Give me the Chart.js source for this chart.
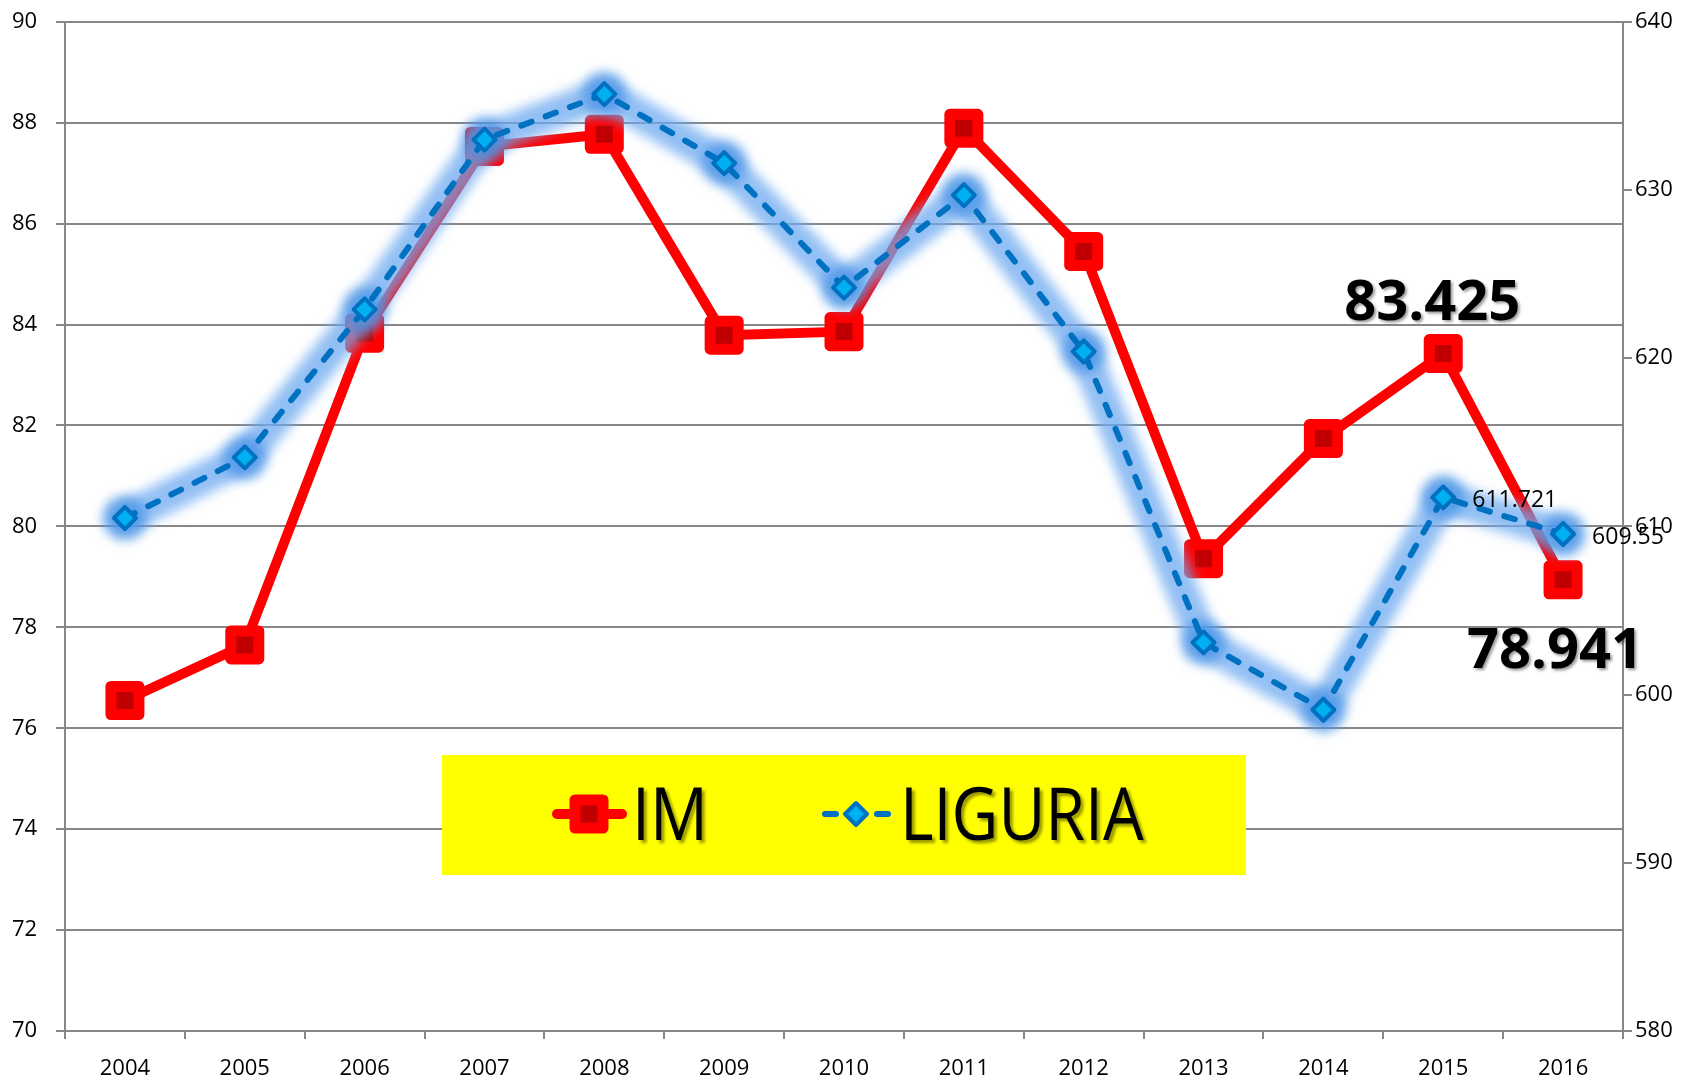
<!DOCTYPE html>
<html>
<head>
<meta charset="utf-8">
<script src="https://cdn.jsdelivr.net/npm/chart.js@4.4.1/dist/chart.umd.min.js"></script>
<style>
  html, body { margin: 0; padding: 0; background: #fff; overflow: hidden; }
  body { width: 1700px; height: 1081px; position: relative; }
  /* shifted up a little: the layout adds a few px above the plot */
  #wrap { width: 1700px; height: 1090px; position: absolute; left: 0; top: -9px; }
</style>
</head>
<body>
<div id="wrap"><canvas id="myChart"></canvas></div>
<script>
// categories
const years = ['2004', '2005', '2006', '2007', '2008', '2009', '2010', '2011', '2012', '2013', '2014', '2015', '2016'];

// IM (left axis)
const imValues = [76.55, 77.65, 83.83, 87.53, 87.77, 83.79, 83.86, 87.89, 85.45, 79.36, 81.74, 83.425, 78.941];

// LIGURIA (right axis)
const liguriaValues = [610.5, 614.1, 622.9, 633.0, 635.7, 631.6, 624.2, 629.7, 620.4, 603.1, 599.1, 611.721, 609.55];

// tick labels of both value axes
const leftTickLabels = [70, 72, 74, 76, 78, 80, 82, 84, 86, 88, 90];
const rightTickLabels = [580, 590, 600, 610, 620, 630, 640];

// points that carry a value label
const labelledYears = ['2015', '2016'];

const gridGray = '#878787';
const red = '#FF0000';
const darkRed = '#C00000';
const blue = '#0070C0';
const cyan = '#00B0F0';

Chart.defaults.font.family = "'Open Sans', sans-serif";

// blur for the glow band, round joins for the markers
const glowPlugin = {
    id: 'glowPlugin',
    beforeDatasetDraw(chart, args) {
        const ds = chart.data.datasets[args.index];
        chart.ctx.save();
        if (ds.isGlow) chart.ctx.filter = 'blur(6px)';
        chart.ctx.lineJoin = 'round';
    },
    afterDatasetDraw(chart) {
        chart.ctx.restore();
    }
};

// value labels on the last two points
const valueLabels = {
    id: 'valueLabels',
    afterDatasetsDraw(chart) {
        const ctx = chart.ctx;
        const imMeta = chart.getDatasetMeta(0);
        const ligMeta = chart.getDatasetMeta(2);
        ctx.save();
        labelledYears.forEach((yr, n) => {
            const i = years.indexOf(yr);
            // IM: big bold labels, first above, second below
            const p = imMeta.data[i];
            ctx.font = "bold 56px 'Open Sans'";
            ctx.textAlign = 'center';
            ctx.textBaseline = 'alphabetic';
            ctx.shadowColor = 'rgba(0,0,0,0.4)';
            ctx.shadowOffsetX = 2;
            ctx.shadowOffsetY = 2;
            ctx.shadowBlur = 3;
            ctx.fillStyle = '#000';
            if (n === 0) ctx.fillText(String(imValues[i]), p.x - 11, p.y - 34);
            else ctx.fillText(String(imValues[i]), p.x - 8, p.y + 88);

            // LIGURIA: small labels to the right
            const q = ligMeta.data[i];
            ctx.shadowColor = 'transparent';
            ctx.font = "23px 'Open Sans'";
            ctx.textAlign = 'left';
            ctx.fillText(String(liguriaValues[i]), q.x + 29, q.y + 10);
        });
        ctx.restore();
    }
};

// yellow legend box inside the plot (canvas coords, canvas is 9px higher than the page)
const boxLegend = {
    id: 'boxLegend',
    afterDraw(chart) {
        const ctx = chart.ctx;
        const im = chart.data.datasets[0];
        const lig = chart.data.datasets[2];
        const dy = 9;
        const cy = 814 + dy;
        ctx.save();
        ctx.fillStyle = '#FFFF00';
        ctx.fillRect(442, 755 + dy, 804, 120);

        // IM sample
        ctx.strokeStyle = im.borderColor;
        ctx.lineWidth = im.borderWidth;
        ctx.lineCap = 'round';
        ctx.beginPath();
        ctx.moveTo(557, cy);
        ctx.lineTo(622, cy);
        ctx.stroke();
        ctx.lineJoin = 'round';
        ctx.lineWidth = im.pointBorderWidth;
        ctx.fillStyle = im.pointBackgroundColor;
        ctx.beginPath();
        ctx.rect(589 - 14, cy - 14, 28, 28);
        ctx.fill();
        ctx.stroke();

        // LIGURIA sample
        ctx.strokeStyle = lig.borderColor;
        ctx.lineWidth = lig.borderWidth;
        ctx.setLineDash(lig.borderDash);
        ctx.beginPath();
        ctx.moveTo(825, cy);
        ctx.lineTo(892, cy);
        ctx.stroke();
        ctx.setLineDash([]);
        ctx.lineWidth = lig.pointBorderWidth;
        ctx.fillStyle = lig.pointBackgroundColor;
        const r = lig.pointRadius;
        ctx.beginPath();
        ctx.moveTo(856, cy - r);
        ctx.lineTo(856 + r, cy);
        ctx.lineTo(856, cy + r);
        ctx.lineTo(856 - r, cy);
        ctx.closePath();
        ctx.fill();
        ctx.stroke();

        // texts
        ctx.font = "74px 'Open Sans'";
        ctx.fillStyle = '#000';
        ctx.textBaseline = 'alphabetic';
        ctx.shadowColor = 'rgba(0,0,0,0.4)';
        ctx.shadowOffsetX = 3;
        ctx.shadowOffsetY = 3;
        ctx.shadowBlur = 3;
        [[im.label, 632], [lig.label, 900]].forEach(([t, x]) => {
            ctx.save();
            ctx.translate(x, 840 + dy);
            ctx.scale(0.87, 1);
            ctx.fillText(t, 0, 0);
            ctx.restore();
        });
        ctx.restore();
    }
};

const tickFont = { family: "'Open Sans'", size: 22 };

new Chart(document.getElementById('myChart'), {
    type: 'line',
    data: {
        labels: years,
        datasets: [
            {
                label: 'IM',
                data: imValues,
                yAxisID: 'y',
                borderColor: red,
                borderWidth: 10,
                borderJoinStyle: 'round',
                pointStyle: 'rect',
                pointRadius: 19.8,
                pointBorderWidth: 11,
                pointBorderColor: red,
                pointBackgroundColor: darkRed,
                order: 3
            },
            {
                label: 'glow',
                isGlow: true,
                data: liguriaValues,
                yAxisID: 'y1',
                borderColor: 'rgba(110,170,240,0.75)',
                borderWidth: 32,
                borderJoinStyle: 'round',
                borderCapStyle: 'round',
                pointStyle: 'circle',
                pointRadius: 22,
                pointBorderWidth: 0,
                pointBackgroundColor: 'rgba(70,145,230,0.75)',
                order: 2
            },
            {
                label: 'LIGURIA',
                data: liguriaValues,
                yAxisID: 'y1',
                borderColor: blue,
                borderWidth: 6,
                borderDash: [11, 15],
                borderCapStyle: 'round',
                pointStyle: 'rectRot',
                pointRadius: 11,
                pointBorderWidth: 4,
                pointBorderColor: blue,
                pointBackgroundColor: cyan,
                order: 1
            }
        ]
    },
    options: {
        responsive: true,
        maintainAspectRatio: false,
        animation: false,
        layout: { padding: { top: 22, left: 12, right: 0, bottom: 0 } },
        plugins: {
            legend: { display: false },
            tooltip: { enabled: false }
        },
        scales: {
            x: {
                offset: true,
                grid: { offset: true, drawOnChartArea: false, color: gridGray, lineWidth: 2, tickLength: 8 },
                border: { color: gridGray, width: 2 },
                ticks: { color: '#000', font: tickFont, padding: 17, maxRotation: 0, autoSkip: false },
                afterFit(s) { s.height = 50; }
            },
            y: {
                position: 'left',
                min: leftTickLabels[0],
                max: leftTickLabels[leftTickLabels.length - 1],
                ticks: { stepSize: leftTickLabels[1] - leftTickLabels[0], color: '#000', font: tickFont, padding: 6, crossAlign: 'far' },
                grid: { color: gridGray, lineWidth: 2, tickLength: 9 },
                border: { color: gridGray, width: 2 },
                afterFit(s) { s.width = 53; }
            },
            y1: {
                position: 'right',
                min: rightTickLabels[0],
                max: rightTickLabels[rightTickLabels.length - 1],
                ticks: { stepSize: rightTickLabels[1] - rightTickLabels[0], color: '#000', font: tickFont, padding: 3 },
                grid: { drawOnChartArea: false, color: gridGray, lineWidth: 2, tickLength: 9 },
                border: { color: gridGray, width: 2 },
                afterFit(s) { s.width = 77; }
            }
        }
    },
    plugins: [glowPlugin, valueLabels, boxLegend]
});
</script>
</body>
</html>
